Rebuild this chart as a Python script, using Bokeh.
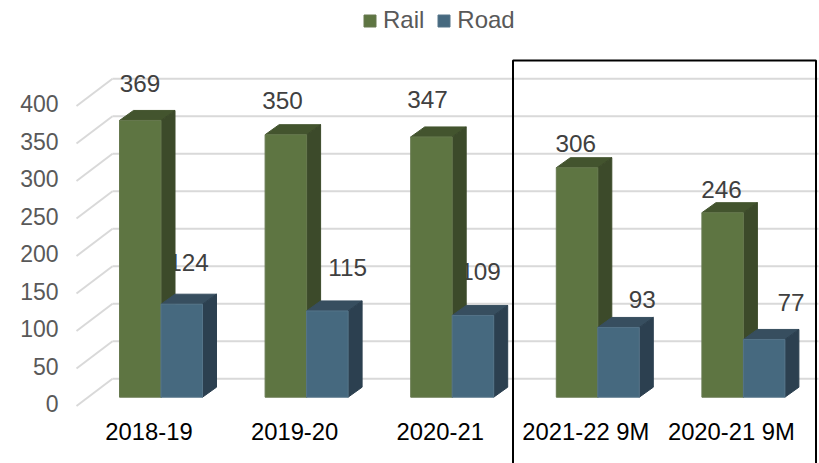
from bokeh.embed import file_html
from bokeh.resources import INLINE
from bokeh.plotting import figure
from bokeh.models import Range1d, LinearAxis, FixedTicker, Legend, LegendItem, ColumnDataSource
from bokeh.core.properties import value

categories = ["2018-19", "2019-20", "2020-21", "2021-22 9M", "2020-21 9M"]
rail = [369, 350, 347, 306, 246]
road = [124, 115, 109, 93, 77]
y_ticks = [0, 50, 100, 150, 200, 250, 300, 350, 400]

# label offsets from each bar's top / the group's centre, in pixels
rail_dx = [-21, -24, -24.7, -22, -22]
rail_dy = [37, 34, 37, 24, 23]
road_dx = [27.5, 41, 28.3, 44.4, 47.6]
road_dy = [41.7, 43, 44, 28, 37]

W, H = 819, 463
PX_X = 145.6          # pixels per category
PX_Y = 0.75           # pixels per unit
X0 = 160.5            # group centre of the first category, plot pixels
Y0 = 396.7            # value 0 on the bars' front face, plot pixels from top
BAR = 41.5 / PX_X     # bar width, categories
DX, DY = 14 / PX_X, 10 / PX_Y   # bar depth
WALL_DX, WALL_DY = 36 / PX_X, 27.2 / PX_Y
FLOOR_DY = 8.8 / PX_Y           # front floor edge below bar base

x_start, x_end = -X0 / PX_X, (W - X0) / PX_X
y_start, y_end = -(H - Y0) / PX_Y, Y0 / PX_Y


def X(px):
    return (px - X0) / PX_X


def Y(px):
    return (Y0 - px) / PX_Y


p = figure(width=W, height=H, output_backend="svg", toolbar_location=None,
           x_range=Range1d(x_start, x_end), y_range=Range1d(y_start, y_end),
           min_border=0, min_border_left=0, min_border_right=0, min_border_top=0, min_border_bottom=0,
           x_axis_type=None, y_axis_type=None, outline_line_color=None)
p.xgrid.visible = False
p.ygrid.visible = False

# axis ranges: same scale, with the shift of the tick labels against the bars
AX_SHIFT_Y = 6.3 / PX_Y
AX_SHIFT_X = 12 / PX_X
p.extra_y_ranges = {"axis": Range1d(y_start + AX_SHIFT_Y, y_end + AX_SHIFT_Y)}
p.extra_x_ranges = {"axis": Range1d(x_start + AX_SHIFT_X, x_end + AX_SHIFT_X)}

FONT = "Liberation Sans"
yax = LinearAxis(y_range_name="axis", ticker=FixedTicker(ticks=y_ticks), fixed_location=X(67))
yax.axis_line_color = None
yax.major_tick_line_color = None
yax.minor_tick_line_color = None
yax.major_label_text_font = FONT
yax.major_label_text_font_size = "23px"
yax.major_label_text_color = "#595959"
yax.major_label_standoff = 3
p.add_layout(yax, "left")

xax = LinearAxis(x_range_name="axis", ticker=FixedTicker(ticks=list(range(len(categories)))),
                 fixed_location=Y(409))
xax.major_label_overrides = {i: c for i, c in enumerate(categories)}
xax.axis_line_color = None
xax.major_tick_line_color = None
xax.minor_tick_line_color = None
xax.major_label_text_font = FONT
xax.major_label_text_font_size = "23.8px"
xax.major_label_text_color = "#000000"
xax.major_label_standoff = 2
p.add_layout(xax, "below")

# walls: gridlines on the back wall and the oblique ones on the side wall
GRID = "#D9D9D9"
left_front = X(76)
left_back = left_front + WALL_DX
right = X(818)
p.segment(x0=[left_back] * len(y_ticks), x1=[right] * len(y_ticks),
          y0=[t + WALL_DY - FLOOR_DY for t in y_ticks],
          y1=[t + WALL_DY - FLOOR_DY for t in y_ticks],
          line_color=GRID, line_width=2)
p.segment(x0=[left_front] * len(y_ticks), x1=[left_back] * len(y_ticks),
          y0=[t - FLOOR_DY for t in y_ticks],
          y1=[t + WALL_DY - FLOOR_DY for t in y_ticks],
          line_color=GRID, line_width=2)

# data labels lie behind the bars
n = len(categories)
lab = ColumnDataSource(dict(
    x=[i + rail_dx[i] / PX_X for i in range(n)] + [i + road_dx[i] / PX_X for i in range(n)],
    y=[rail[i] + rail_dy[i] / PX_Y for i in range(n)] + [road[i] + road_dy[i] / PX_Y for i in range(n)],
    t=[str(v) for v in rail] + [str(v) for v in road]))
p.text("x", "y", text="t", source=lab, text_font=value(FONT), text_font_size="24.3px",
       text_color="#404040", text_align="center", text_baseline="middle")


def bars(lefts, values, front, side, top, edge):
    sx = [l + BAR for l in lefts]
    # top face
    p.patches([[l, l + DX, r + DX, r] for l, r in zip(lefts, sx)],
              [[v, v + DY, v + DY, v] for v in values],
              fill_color=top, line_color=top, line_width=1)
    # side face
    p.patches([[r, r + DX, r + DX, r] for r in sx],
              [[0, DY, v + DY, v] for v in values],
              fill_color=side, line_color=side, line_width=1)
    return p.quad(left=lefts, right=sx, bottom=[0] * len(values), top=values,
                  fill_color=front, line_color=edge, line_width=1)


xs = list(range(n))
r_rail = bars([x - BAR for x in xs], rail, "#5E7542", "#3C4A2A", "#43542E", "#67794F")
r_road = bars(xs, road, "#46697F", "#2C4050", "#374E5F", "#557489")

# frame round the nine-month columns
bx0, bx1, by0, by1 = X(512.5), X(815.5), Y(60), Y(470)
p.line([bx0, bx0, bx1, bx1], [by1, by0, by0, by1], line_color="#000000", line_width=2)

legend = Legend(items=[LegendItem(label="Rail", renderers=[r_rail]),
                       LegendItem(label="Road", renderers=[r_road])],
                orientation="horizontal", location=(362, H - 34),
                background_fill_alpha=0, border_line_color=None,
                glyph_width=15, glyph_height=15, label_standoff=6, spacing=12,
                padding=4, margin=0,
                label_text_font=FONT, label_text_font_size="24px", label_text_color="#595959")
p.add_layout(legend, "center")

open("out.html", "w").write(file_html(p, INLINE))
